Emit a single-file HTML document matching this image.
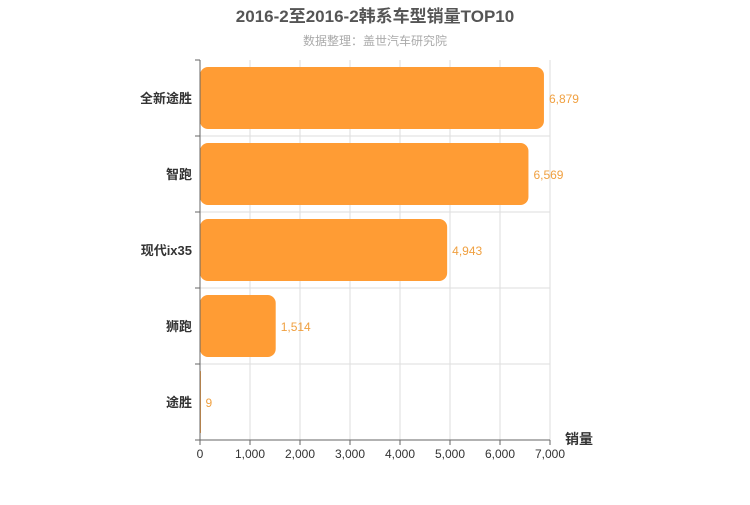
<!DOCTYPE html>
<html><head><meta charset="utf-8"><style>
body{margin:0;background:#fff;}
svg text{font-family:"Liberation Sans","Noto Sans CJK SC",sans-serif;}
</style></head><body>
<svg id="c" width="750" height="500"></svg>
<script>
const categories=["全新途胜","智跑","现代ix35","狮跑","途胜"];
const values=[6879,6569,4943,1514,9];
const tickValues=[0,1000,2000,3000,4000,5000,6000,7000];
const tickLabels=["0","1,000","2,000","3,000","4,000","5,000","6,000","7,000"];
const valueLabels=["6,879","6,569","4,943","1,514","9"];
const svg=document.getElementById('c');
const NS='http://www.w3.org/2000/svg';
const x0=200,x1=550,y0=60,y1=440,xmax=7000;
const xs=v=>x0+(v/xmax)*(x1-x0);
const band=(y1-y0)/categories.length;
function mk(t,a,txt){const e=document.createElementNS(NS,t);for(const k in a)e.setAttribute(k,a[k]);if(txt!==undefined)e.textContent=txt;svg.appendChild(e);return e;}
let e;
e=mk('text',{x:375,y:22,'text-anchor':'middle','font-size':17,'font-weight':'bold',fill:'#555'},'2016-2至2016-2韩系车型销量TOP10');

e=mk('text',{x:375,y:45,'text-anchor':'middle','font-size':12,fill:'#aaa'},'数据整理：盖世汽车研究院');

tickValues.forEach((v,i)=>{
 if(i>0){e=mk('line',{x1:xs(v),x2:xs(v),y1:y0,y2:y1,stroke:'#ddd'});
 }
 e=mk('line',{x1:xs(v),x2:xs(v),y1:y1,y2:y1+5,stroke:'#666'});
 
 e=mk('text',{x:xs(v),y:y1+18,'text-anchor':'middle','font-size':12,fill:'#333'},tickLabels[i]);
 
});
for(let i=0;i<=categories.length;i++){
 const y=y0+i*band;
 if(i>0&&i<categories.length){e=mk('line',{x1:x0,x2:x1,y1:y,y2:y,stroke:'#ddd'});
 }
 e=mk('line',{x1:x0-5,x2:x0,y1:y,y2:y,stroke:'#666'});
 
}
categories.forEach((c,i)=>{
 const yc=y0+band*(i+0.5);
 const w=xs(values[i])-x0;
 e=mk('rect',{x:x0,y:yc-31,width:Math.max(w,1),height:62,rx:Math.min(8,w/2),fill:'#ff9c34'});
 
 e=mk('text',{x:xs(values[i])+5,y:yc+5,'font-size':12,fill:'#f0a040'},valueLabels[i]);
 
 e=mk('text',{x:x0-8,y:yc+5,'text-anchor':'end','font-size':13,'font-weight':'bold',fill:'#333'},c);
 
});
e=mk('line',{x1:x0,x2:x0,y1:y0,y2:y1,stroke:'#666'});

e=mk('line',{x1:x0,x2:x1,y1:y1,y2:y1,stroke:'#666'});

e=mk('text',{x:565,y:444,'font-size':14,'font-weight':'bold',fill:'#333'},'销量');

</script>
</body></html>
